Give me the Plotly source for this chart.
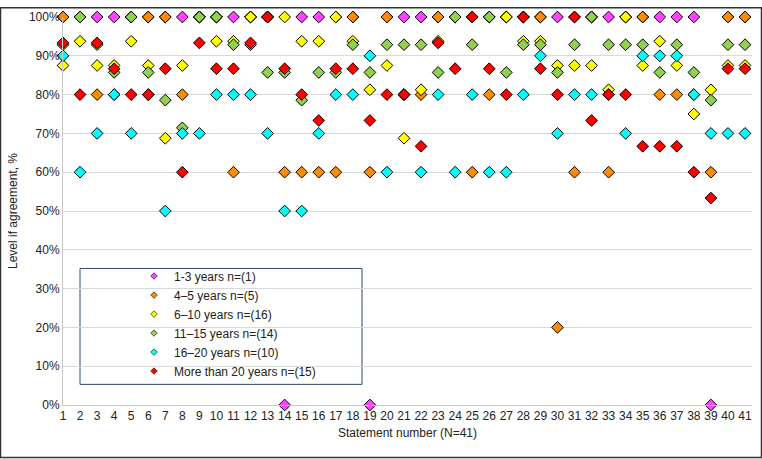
import plotly.graph_objects as go

statements = list(range(1, 42))
series_names = ["1-3 years n=(1)", "4–5 years n=(5)", "6–10 years n=(16)",
                "11–15 years n=(14)", "16–20 years n=(10)", "More than 20 years n=(15)"]
colors = ["#FF44FF", "#FF8C00", "#FFFF00", "#92D050", "#00FFFF", "#FF0000"]

y_1_3 = [100, 100, 100, 100, 100, 100, 100, 100, 100, 100,
         100, 100, 100, 0, 100, 100, 100, 100, 0, 100,
         100, 100, 100, 100, 100, 100, 100, 100, 100, 100,
         100, 100, 100, 100, 100, 100, 100, 100, 0, 100, 100]
y_4_5 = [100, 100, 80, 80, 100, 100, 100, 80, 100, 100,
         60, 100, 100, 60, 60, 60, 60, 100, 60, 100,
         80, 80, 100, 100, 60, 80, 100, 100, 100, 20,
         60, 100, 60, 100, 100, 80, 80, 80, 60, 100, 100]
y_6_10 = [87.5, 93.75, 87.5, 87.5, 93.75, 87.5, 68.75, 87.5, 100, 93.75,
          93.75, 100, 100, 100, 93.75, 93.75, 100, 93.75, 81.25, 87.5,
          68.75, 81.25, 93.75, 100, 100, 100, 100, 93.75, 93.75, 87.5,
          87.5, 87.5, 81.25, 100, 87.5, 93.75, 87.5, 75, 81.25, 87.5, 87.5]
y_11_15 = [92.86, 100, 92.86, 85.71, 100, 85.71, 78.57, 71.43, 100, 100,
           92.86, 92.86, 85.71, 85.71, 78.57, 85.71, 85.71, 92.86, 85.71, 92.86,
           92.86, 92.86, 85.71, 100, 92.86, 100, 85.71, 92.86, 92.86, 85.71,
           92.86, 100, 92.86, 92.86, 92.86, 85.71, 92.86, 85.71, 78.57, 92.86, 92.86]
y_16_20 = [90, 60, 70, 80, 70, 80, 50, 70, 70, 80,
           80, 80, 70, 50, 50, 70, 80, 80, 90, 60,
           80, 60, 80, 60, 80, 60, 60, 80, 90, 70,
           80, 80, 80, 70, 90, 90, 90, 80, 70, 70, 70]
y_20p = [93.33, 80, 93.33, 86.67, 80, 80, 86.67, 60, 93.33, 86.67,
         86.67, 93.33, 100, 86.67, 80, 73.33, 86.67, 86.67, 73.33, 80,
         80, 66.67, 93.33, 86.67, 100, 86.67, 80, 100, 86.67, 80,
         100, 73.33, 80, 80, 66.67, 66.67, 66.67, 60, 53.33, 86.67, 86.67]

all_series = [y_1_3, y_4_5, y_6_10, y_11_15, y_16_20, y_20p]
y_ticks = list(range(0, 101, 10))
y_ticktext = [f"{v}%" for v in y_ticks]

W, H = 762, 459
L, R, T, B = 63, 10, 10, 54
pw, ph = W - L - R, H - T - B

def px(x):
    return (x - L) / pw

def py(y):
    return (H - B - y) / ph

fig = go.Figure()
for name, col, ys in zip(series_names, colors, all_series):
    fig.add_trace(go.Scatter(
        x=statements, y=ys, mode="markers", name=name, showlegend=False,
        marker=dict(symbol="diamond", size=9, color=col, line=dict(color="black", width=1)),
        cliponaxis=False))
for name, col in zip(series_names, colors):
    fig.add_trace(go.Scatter(
        x=[None], y=[None], mode="markers", name=name, showlegend=True,
        marker=dict(symbol="diamond", size=5, color=col, line=dict(color="black", width=0.6))))

fig.update_layout(
    width=W, height=H,
    margin=dict(l=L, r=R, t=T, b=B),
    paper_bgcolor="white", plot_bgcolor="white",
    font=dict(family="Liberation Sans, Arial", size=12, color="#222"),
    xaxis=dict(range=[1, 41.41], tickmode="array", tickvals=statements,
               ticktext=[str(s) for s in statements], showgrid=False,
               showline=True, linecolor="#c8c8c8", linewidth=1, zeroline=False,
               ticks="", tickfont=dict(size=12),
               title=dict(text="Statement number (N=41)", font=dict(size=12), standoff=6)),
    yaxis=dict(range=[0, 100], tickmode="array", tickvals=y_ticks, ticktext=y_ticktext,
               showgrid=True, gridcolor="#d9d9d9", gridwidth=1, zeroline=False,
               showline=True, linecolor="#c8c8c8", linewidth=1, ticks="",
               tickfont=dict(size=12),
               title=dict(text="Level if agreement, %", font=dict(size=12), standoff=8)),
    legend=dict(x=px(134), y=py(259), xanchor="left", yanchor="top",
                bgcolor="rgba(0,0,0,0)", borderwidth=0, font=dict(size=12, color="#222"),
                tracegroupgap=0),
    shapes=[
        dict(type="rect", xref="paper", yref="paper", x0=px(80), x1=px(362),
             y0=py(384), y1=py(266), line=dict(color="#2F4A6A", width=1),
             fillcolor="white", layer="below"),
        dict(type="rect", xref="paper", yref="paper", x0=px(0.5), x1=px(W - 0.5),
             y0=py(H - 0.5), y1=py(0.5), line=dict(color="#333333", width=1.5)),
    ],
)

fig.write_html("out.html")
